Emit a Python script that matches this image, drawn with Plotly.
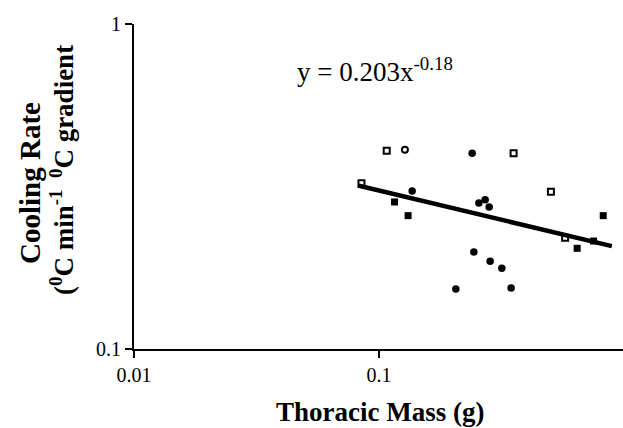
import plotly.graph_objects as go

# Data
open_sq_x = [0.1074, 0.3537, 0.0847, 0.5022, 0.574]
open_sq_y = [0.4076, 0.4002, 0.3236, 0.3048, 0.2200]
open_ci_x = [0.1274]
open_ci_y = [0.4105]
fill_ci_x = [0.2397, 0.1364, 0.2553, 0.2708, 0.2812, 0.2435, 0.2838, 0.3167, 0.2056, 0.3457]
fill_ci_y = [0.4002, 0.3063, 0.2814, 0.2880, 0.2735, 0.1988, 0.1862, 0.1771, 0.1530, 0.1541]
fill_sq_x = [0.1156, 0.1313, 0.821, 0.6427, 0.750]
fill_sq_y = [0.2834, 0.2572, 0.2572, 0.2041, 0.2149]

fit_a = 0.203
fit_b = -0.18
fit_x = [0.082, 0.89]
fit_y = [fit_a * v ** fit_b for v in fit_x]

x_ticks = [0.01, 0.1]
x_ticklabels = ["0.01", "0.1"]
y_ticks = [0.1, 1]
y_ticklabels = ["0.1", "1"]

font_fam = "Liberation Serif, Times New Roman, serif"

L, T, B, W = 134, 24, 349, 489
H = B - T


def px(xp):
    return (xp - L) / W


def py(yp):
    return (B - yp) / H


fig = go.Figure()
fig.add_trace(go.Scatter(x=fit_x, y=fit_y, mode="lines",
                         line=dict(color="black", width=4.5), showlegend=False))
fig.add_trace(go.Scatter(x=open_sq_x, y=open_sq_y, mode="markers",
                         marker=dict(symbol="square-open", size=6, color="black",
                                     line=dict(width=2, color="black")), showlegend=False))
fig.add_trace(go.Scatter(x=open_ci_x, y=open_ci_y, mode="markers",
                         marker=dict(symbol="circle-open", size=6, color="black",
                                     line=dict(width=2, color="black")), showlegend=False))
fig.add_trace(go.Scatter(x=fill_ci_x, y=fill_ci_y, mode="markers",
                         marker=dict(symbol="circle", size=7.5, color="black"), showlegend=False))
fig.add_trace(go.Scatter(x=fill_sq_x, y=fill_sq_y, mode="markers",
                         marker=dict(symbol="square", size=7, color="black"), showlegend=False))

fig.update_layout(
    width=623, height=428,
    margin=dict(l=L, r=0, t=T, b=428 - B),
    plot_bgcolor="white", paper_bgcolor="white",
    font=dict(family=font_fam, color="black", size=20),
    xaxis=dict(type="log", range=[-2, -0.005], showgrid=False, zeroline=False,
               showline=True, linecolor="black", linewidth=2,
               ticks="outside", ticklen=7, tickwidth=1.5, tickcolor="black",
               tickvals=x_ticks, ticktext=x_ticklabels,
               tickfont=dict(size=20, family=font_fam)),
    yaxis=dict(type="log", range=[-1, 0], showgrid=False, zeroline=False,
               showline=True, linecolor="black", linewidth=2,
               ticks="outside", ticklen=7, tickwidth=1.5, tickcolor="black",
               tickvals=y_ticks, ticktext=y_ticklabels,
               tickfont=dict(size=20, family=font_fam)),
)

fig.add_annotation(x=px(380), xref="paper", y=py(412), yref="paper", yanchor="middle",
                   text="<b>Thoracic Mass (g)</b>", showarrow=False,
                   font=dict(size=27, family=font_fam))

fig.add_annotation(x=px(12), xref="paper", y=py(183), yref="paper", textangle=-90,
                   text="<b>Cooling Rate</b>", showarrow=False,
                   font=dict(size=29, family=font_fam))
fig.add_annotation(x=px(43), xref="paper", y=py(170), yref="paper", textangle=-90,
                   text="<b>(<sup>0</sup>C min<sup>-1 </sup> <sup>0</sup>C gradient</b>",
                   showarrow=False, font=dict(size=27, family=font_fam))

fig.add_annotation(x=px(295), xanchor="left", y=py(70), yanchor="middle",
                   xref="paper", yref="paper", showarrow=False,
                   text="y = 0.203x<sup>-0.18</sup>", font=dict(size=27, family=font_fam))

fig.write_html("out.html")
